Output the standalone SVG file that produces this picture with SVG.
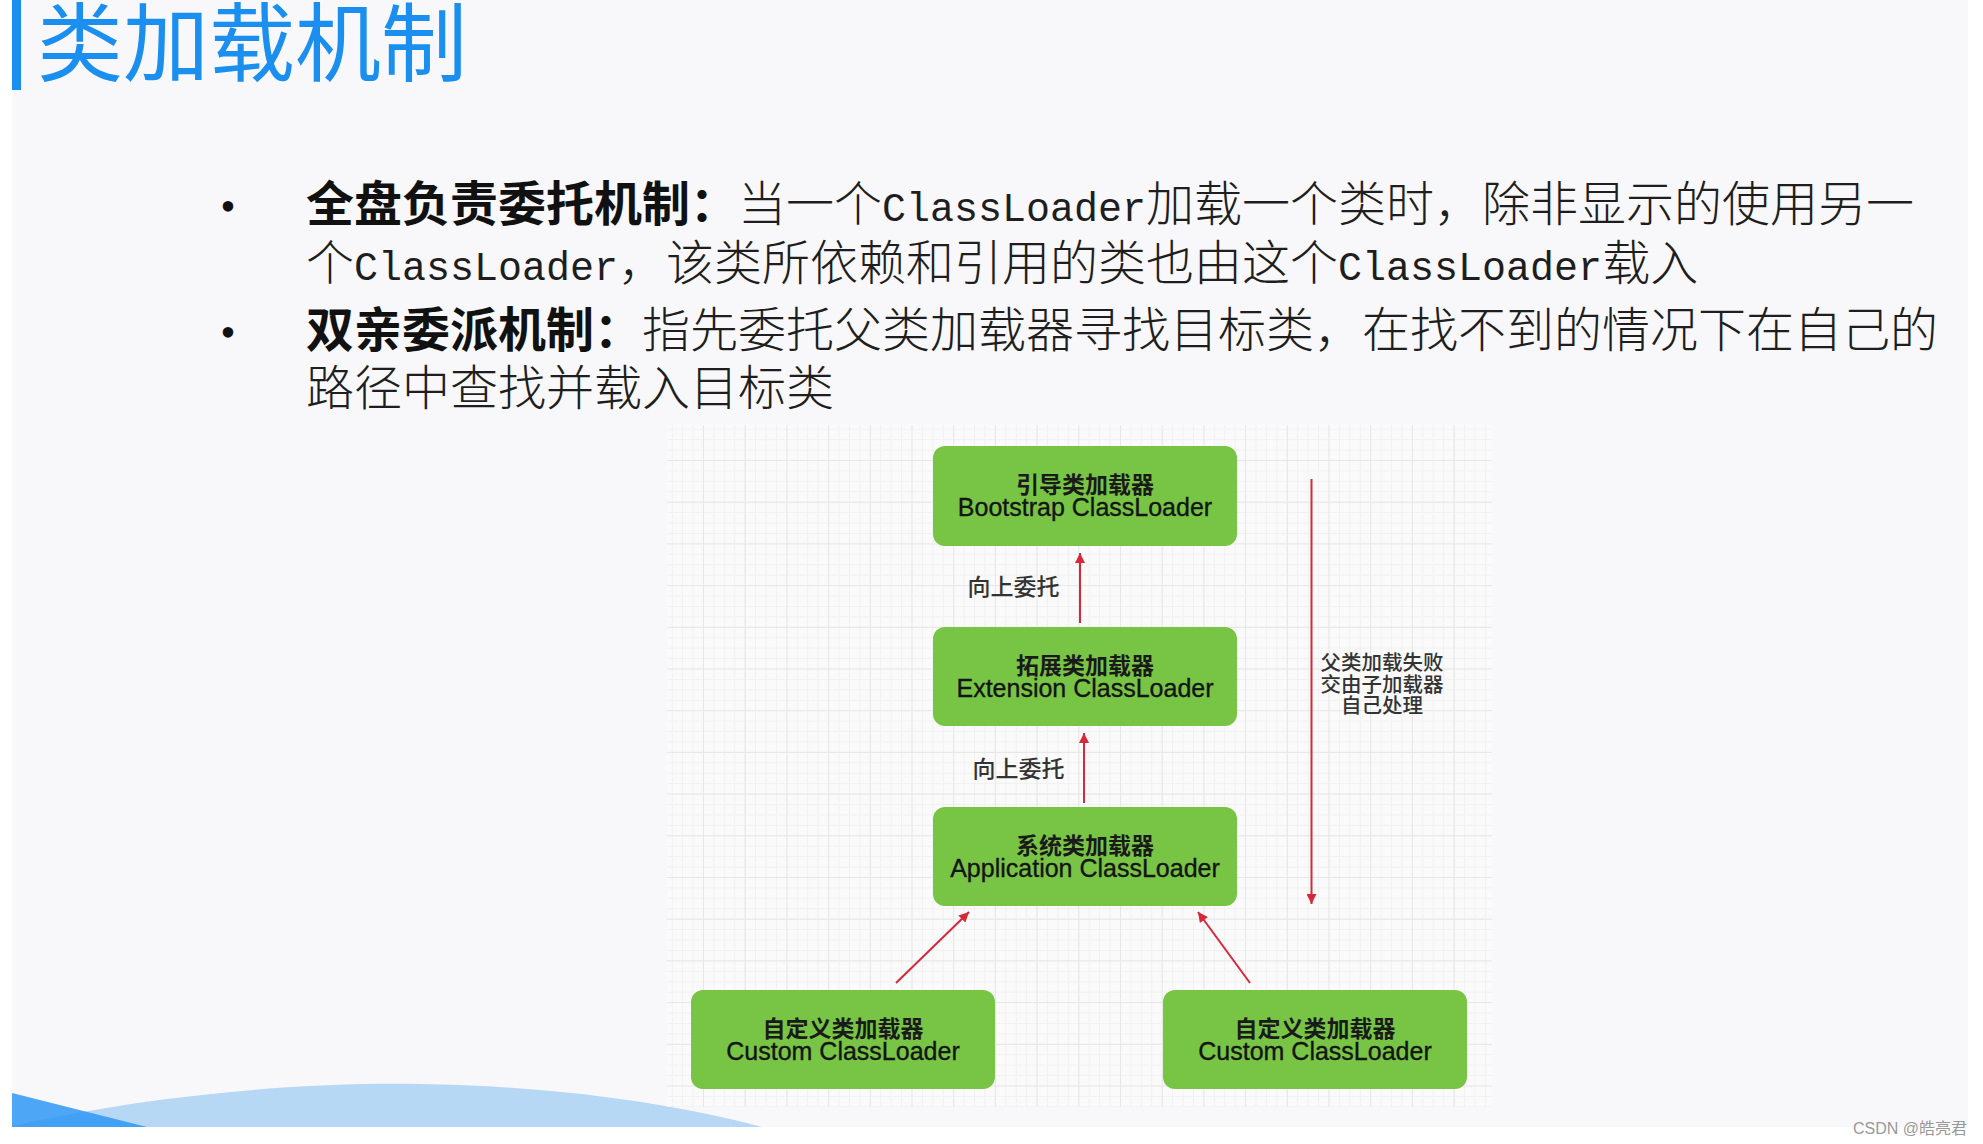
<svg xmlns="http://www.w3.org/2000/svg" width="1983" height="1144" viewBox="0 0 1983 1144">
<style>
.body { font-family: "Noto Sans CJK SC", sans-serif; font-size: 48px; font-weight: 300; fill: #1e1e1e; }
.b { font-weight: 700; fill: #111111; }
.mono { font-family: "Liberation Mono", "Noto Sans CJK SC", monospace; font-size: 40px; }
.box { fill: #78c445; }
.nl { text-anchor: middle; }
.zh { font-family: "Noto Sans CJK SC", sans-serif; font-size: 23px; font-weight: 700; fill: #1a1a1a; }
.en { font-family: "Liberation Sans", "Noto Sans CJK SC", sans-serif; font-size: 25px; font-weight: 400; fill: #141414; stroke: #141414; stroke-width: 0.35; }
.lbl { font-family: "Noto Sans CJK SC", sans-serif; font-size: 23px; font-weight: 500; fill: #333333; text-anchor: middle; }
.note { font-family: "Noto Sans CJK SC", sans-serif; font-size: 20.5px; font-weight: 500; fill: #333333; text-anchor: middle; }
.conn { stroke: #d62839; stroke-width: 2; fill: none; marker-end: url(#ah); }
</style>
<defs>
<marker id="ah" viewBox="0 0 10 10" refX="10" refY="5" markerUnits="userSpaceOnUse" markerWidth="14" markerHeight="10" orient="auto">
<path d="M0,0 L10,5 L0,10 z" fill="#d62839"/>
</marker>
<pattern id="minor" patternUnits="userSpaceOnUse" x="703" y="460" width="10.425" height="10.425">
<path d="M0 0.5 H10.425 M0.5 0 V10.425" stroke="#f1f1f1" stroke-width="1" fill="none"/>
</pattern>
<pattern id="major" patternUnits="userSpaceOnUse" x="703" y="460" width="41.7" height="41.7">
<path d="M0 0.5 H41.7 M0.5 0 V41.7" stroke="#e7e7e7" stroke-width="1" fill="none"/>
</pattern>
</defs>

<rect x="0" y="0" width="1983" height="1144" fill="#ffffff"/>
<rect x="12" y="0" width="1956" height="1127" fill="#f8f8fa"/>

<!-- bottom decoration -->
<path d="M12 1126 C150 1095 300 1082 420 1084 C560 1086 680 1105 762 1127 L12 1127 Z" fill="#b7d8f5"/>
<path d="M12 1093 L147 1127 L12 1127 Z" fill="#2f98f5" fill-opacity="0.85"/>

<!-- title -->
<rect x="12" y="0" width="9" height="90" fill="#1a8fef"/>
<text x="37" y="75" font-family="Noto Sans CJK SC, sans-serif" font-size="86" font-weight="400" fill="#1a8fef">类加载机制</text>

<!-- bullets -->
<text x="228" y="221" font-family="Liberation Serif, serif" font-size="44" fill="#111" text-anchor="middle">•</text>
<text class="body" x="306" y="221"><tspan class="b">全盘负责委托机制：</tspan>当一个<tspan class="mono">ClassLoader</tspan>加载一个类时，除非显示的使用另一</text>
<text class="body" x="306" y="280">个<tspan class="mono">ClassLoader</tspan>，该类所依赖和引用的类也由这个<tspan class="mono">ClassLoader</tspan>载入</text>
<text x="228" y="347" font-family="Liberation Serif, serif" font-size="44" fill="#111" text-anchor="middle">•</text>
<text class="body" x="306" y="347"><tspan class="b">双亲委派机制：</tspan>指先委托父类加载器寻找目标类，在找不到的情况下在自己的</text>
<text class="body" x="306" y="405">路径中查找并载入目标类</text>

<!-- grid panel -->
<rect x="667" y="425" width="825" height="682" fill="#fafafa"/>
<rect x="667" y="425" width="825" height="682" fill="url(#minor)"/>
<rect x="667" y="425" width="825" height="682" fill="url(#major)"/>

<!-- connectors -->
<g id="connectors">
<line class="conn" x1="1080" y1="623" x2="1080" y2="553"/>
<line class="conn" x1="1084" y1="803" x2="1084" y2="733"/>
<line class="conn" x1="1311.5" y1="479" x2="1311.5" y2="904"/>
<line class="conn" x1="896" y1="983" x2="969" y2="912"/>
<line class="conn" x1="1250" y1="983" x2="1198" y2="912"/>
<text class="lbl" x="1013.5" y="595">向上委托</text>
<text class="lbl" x="1018.5" y="777">向上委托</text>
<text class="note" x="1382" y="670">父类加载失败<tspan x="1382" dy="22">交由子加载器</tspan><tspan x="1382" dy="21">自己处理</tspan></text>
</g>

<!-- nodes -->
<g id="bootstrap">
<rect class="box" x="933" y="446" width="304" height="100" rx="12"/>
<text class="nl" x="1085" y="493"><tspan class="zh">引导类加载器</tspan><tspan class="en" x="1085" dy="23">Bootstrap ClassLoader</tspan></text>
</g>
<g id="extension">
<rect class="box" x="933" y="627" width="304" height="99" rx="12"/>
<text class="nl" x="1085" y="674"><tspan class="zh">拓展类加载器</tspan><tspan class="en" x="1085" dy="23">Extension ClassLoader</tspan></text>
</g>
<g id="application">
<rect class="box" x="933" y="807" width="304" height="99" rx="12"/>
<text class="nl" x="1085" y="854"><tspan class="zh">系统类加载器</tspan><tspan class="en" x="1085" dy="23">Application ClassLoader</tspan></text>
</g>
<g id="custom-left">
<rect class="box" x="691" y="990" width="304" height="99" rx="12"/>
<text class="nl" x="843" y="1037"><tspan class="zh">自定义类加载器</tspan><tspan class="en" x="843" dy="23">Custom ClassLoader</tspan></text>
</g>
<g id="custom-right">
<rect class="box" x="1163" y="990" width="304" height="99" rx="12"/>
<text class="nl" x="1315" y="1037"><tspan class="zh">自定义类加载器</tspan><tspan class="en" x="1315" dy="23">Custom ClassLoader</tspan></text>
</g>

<text x="1967" y="1134" font-family="Liberation Sans, Noto Sans CJK SC, sans-serif" font-size="16" fill="#999999" text-anchor="end">CSDN @皓亮君</text>
</svg>
